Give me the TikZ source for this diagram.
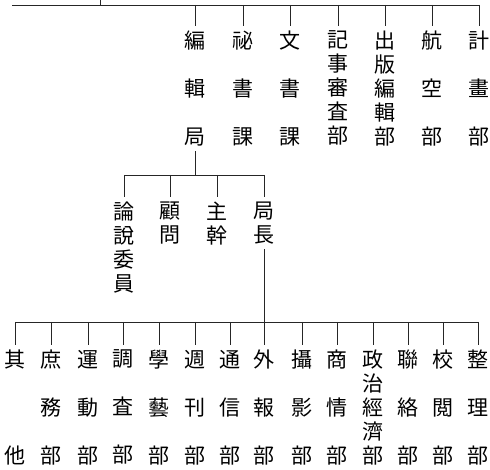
\documentclass[tikz,border=0pt]{standalone}
\usepackage{fontspec}
\newfontfamily\cjk{Noto Sans CJK JP}
\begin{document}
\begin{tikzpicture}[x=1pt,y=-1pt,
  link/.style={line width=0.7pt, draw=black!85},
  lab/.style={inner sep=0pt, outer ysep=5pt, align=center, anchor=north},
  wide/.style={font=\cjk\fontsize{21}{48}\selectfont},
  tight/.style={font=\cjk\fontsize{21}{24}\selectfont},
  apart/.style={font=\cjk\fontsize{21}{96}\selectfont}]
\useasboundingbox (0,0) rectangle (490,470);
% top level
\coordinate (trunk) at (100,0);
\coordinate (tb) at (12,5);
\node[lab,wide]  (a1) at (195,26) {編\\輯\\局};
\node[lab,wide]  (a2) at (243,26) {祕\\書\\課};
\node[lab,wide]  (a3) at (290,26) {文\\書\\課};
\node[lab,tight] (a4) at (338,26) {記\\事\\審\\査\\部};
\node[lab,tight] (a5) at (385,26) {出\\版\\編\\輯\\部};
\node[lab,wide]  (a6) at (432,26) {航\\空\\部};
\node[lab,wide]  (a7) at (479,26) {計\\畫\\部};
\draw[link] (trunk) -- (trunk |- tb);
\draw[link] (tb) -- (a7.north |- tb);
\foreach \n in {a1,a2,a3,a4,a5,a6,a7}
  \draw[link] (\n.north |- tb) -- (\n.north);
% middle level
\coordinate (mb) at (0,175);
\node[lab,tight] (b1) at (124,197) {論\\說\\委\\員};
\node[lab,tight] (b2) at (170,197) {顧\\問};
\node[lab,tight] (b3) at (217,197) {主\\幹};
\node[lab,tight] (b4) at (264,197) {局\\長};
\draw[link] (a1.south) -- (a1.south |- mb);
\draw[link] (b1.north |- mb) -- (b4.north |- mb);
\foreach \n in {b1,b2,b3,b4}
  \draw[link] (\n.north |- mb) -- (\n.north);
% bottom level
\coordinate (lb) at (0,322);
\node[lab,apart] (c1)  at (15,345)  {其\\他};
\node[lab,wide]  (c2)  at (51,345)  {庶\\務\\部};
\node[lab,wide]  (c3)  at (88,345)  {運\\動\\部};
\node[lab,wide]  (c4)  at (123,345) {調\\査\\部};
\node[lab,wide]  (c5)  at (159,345) {學\\藝\\部};
\node[lab,wide]  (c6)  at (195,345) {週\\刊\\部};
\node[lab,wide]  (c7)  at (230,345) {通\\信\\部};
\node[lab,wide]  (c8)  at (264,345) {外\\報\\部};
\node[lab,wide]  (c9)  at (302,345) {攝\\影\\部};
\node[lab,wide]  (c10) at (337,345) {商\\情\\部};
\node[lab,tight] (c11) at (373,345) {政\\治\\經\\濟\\部};
\node[lab,wide]  (c12) at (408,345) {聯\\絡\\部};
\node[lab,wide]  (c13) at (443,345) {校\\閲\\部};
\node[lab,wide]  (c14) at (478,345) {整\\理\\部};
\draw[link] (b4.south) -- (b4.south |- lb);
\draw[link] (c1.north |- lb) -- (c14.north |- lb);
\foreach \n in {c1,c2,c3,c4,c5,c6,c7,c8,c9,c10,c11,c12,c13,c14}
  \draw[link] (\n.north |- lb) -- (\n.north);
\end{tikzpicture}
\end{document}
